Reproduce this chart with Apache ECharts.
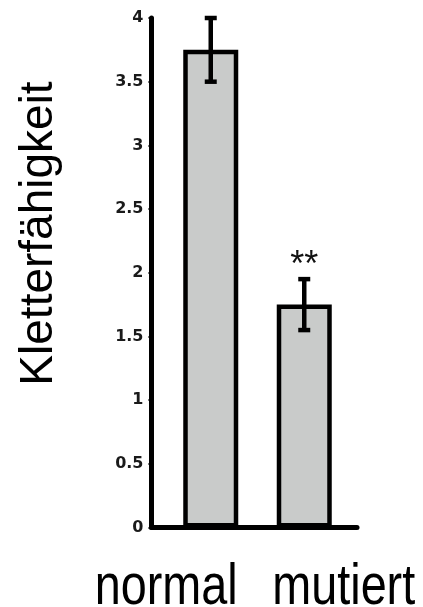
<!DOCTYPE html>
<html>
<head>
<meta charset="utf-8">
<script src="https://cdn.jsdelivr.net/npm/echarts@6/dist/echarts.min.js"></script>
<style>html,body{margin:0;padding:0;background:#fff}#c{width:423px;height:607px}</style>
</head>
<body>
<div id="c"></div>
<script>
const categories = ['normal', 'mutiert'];
const means = [3.75, 1.75];
const errLow = [3.5, 1.55];
const errHigh = [4.0, 1.95];
const significance = ['', '**'];
const yTicks = [0, 0.5, 1, 1.5, 2, 2.5, 3, 3.5, 4];
const yTitle = 'Kletterfähigkeit';
// horizontal shift of each category label relative to its bar centre (px)
const labelShift = [-44.5, 39.5];

const chart = echarts.init(document.getElementById('c'), null, {renderer: 'canvas'});
const errData = categories.map((c, i) => [i, errLow[i], errHigh[i]]);

chart.setOption({
  animation: false,
  backgroundColor: '#fff',
  grid: [
    {left: 164, width: 187, top: 18, bottom: 79.5, outerBoundsMode: 'none', containLabel: false},
    {left: 151.5, right: 66, top: 18, bottom: 79.5, outerBoundsMode: 'none', containLabel: false}
  ],
  xAxis: [
    {
      type: 'category', gridIndex: 0, data: categories,
      axisLine: {show: false}, axisTick: {show: false},
      axisLabel: {show: false}
    },
    {
      type: 'value', gridIndex: 1, min: 0, max: 1,
      axisLine: {show: true, lineStyle: {color: '#000', width: 5}},
      axisTick: {show: false}, axisLabel: {show: false}, splitLine: {show: false}
    }
  ],
  yAxis: [
    {
      type: 'value', gridIndex: 0, min: yTicks[0], max: yTicks[yTicks.length - 1], interval: 0.5,
      offset: 12.5,
      axisLine: {show: true, lineStyle: {color: '#000', width: 5}},
      axisTick: {show: true, length: 3, lineStyle: {color: '#000', width: 2}},
      axisLabel: {
        margin: 8,
        fontFamily: '"DejaVu Sans",sans-serif', fontWeight: 'bold', fontSize: 16, color: '#1a1a1a',
        formatter: v => String(v)
      },
      splitLine: {show: false}
    },
    {type: 'value', gridIndex: 1, show: false, min: 0, max: 1}
  ],
  series: [
    {
      type: 'bar', xAxisIndex: 0, yAxisIndex: 0, data: means, barWidth: 55,
      itemStyle: {color: '#c9cbca', borderColor: '#000', borderWidth: 4.5}
    },
    {
      type: 'custom', xAxisIndex: 0, yAxisIndex: 0, data: errData, z: 5,
      renderItem: (params, api) => {
        const x = api.value(0);
        const lo = api.coord([x, api.value(1)]);
        const hi = api.coord([x, api.value(2)]);
        const cap = 6;
        const st = {stroke: '#000', lineWidth: 4.5};
        const sig = significance[params.dataIndex];
        const children = [
          {type: 'line', shape: {x1: lo[0], y1: lo[1], x2: hi[0], y2: hi[1]}, style: st},
          {type: 'line', shape: {x1: lo[0] - cap, y1: lo[1], x2: lo[0] + cap, y2: lo[1]}, style: st},
          {type: 'line', shape: {x1: hi[0] - cap, y1: hi[1], x2: hi[0] + cap, y2: hi[1]}, style: st}
        ];
        if (sig) {
          children.push({
            type: 'text', x: hi[0], y: hi[1] - 13,
            style: {text: sig, fontFamily: '"Liberation Sans",Arial,sans-serif', fontSize: 36, fill: '#111', align: 'center', verticalAlign: 'middle'}
          });
        }
        return {type: 'group', children};
      }
    }
  ]
});

// axis title and category labels (narrow, tall sans like the reference)
const xBase = chart.convertToPixel({gridIndex: 0}, [0, 0])[1];
const graphics = [
  {
    type: 'text', x: 39, y: 233.5, rotation: Math.PI / 2,
    style: {
      text: yTitle, fontFamily: '"Liberation Sans",Arial,sans-serif', fontSize: 46,
      fill: '#000', align: 'center', verticalAlign: 'middle'
    }
  }
];
categories.forEach((c, i) => {
  const px = chart.convertToPixel({xAxisIndex: 0}, c);
  graphics.push({
    type: 'text', x: px + labelShift[i], y: xBase + 61, scaleX: 0.82,
    style: {
      text: c, fontFamily: '"Liberation Sans",Arial,sans-serif', fontSize: 57,
      fill: '#000', align: 'center', verticalAlign: 'middle'
    }
  });
});
chart.setOption({graphic: graphics});
</script>
</body>
</html>
